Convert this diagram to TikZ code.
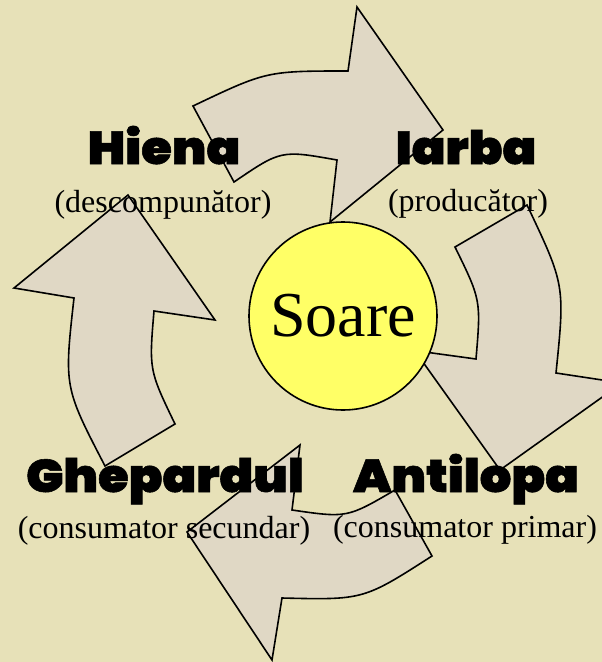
\documentclass[tikz,border=0pt]{standalone}
\usepackage{fontspec}
\setmainfont{Liberation Serif}
\newfontfamily\heavyfont{Poppins Black}[FakeStretch=1.08,FakeBold=1.2]
\definecolor{bg}{RGB}{231,225,184}
\definecolor{arrowfill}{RGB}{224,216,197}
\definecolor{sun}{RGB}{255,255,102}
\tikzset{
  cyclearrow/.style={fill=arrowfill, draw=black, line width=1.6pt, line join=miter},
  title/.style={font=\heavyfont\fontsize{46}{50}\selectfont, anchor=base, inner sep=0pt},
  role/.style={font=\fontsize{32}{36}\selectfont, anchor=base, inner sep=0pt},
}
\begin{document}
\begin{tikzpicture}[x=1pt,y=-1pt]
  \path[use as bounding box, fill=bg] (0,0) rectangle (602,662);
  \clip (0,0) rectangle (602,662);
  % top arrow
  \draw[cyclearrow] (193,106) .. controls (266.5,71) .. (348,71) -- (357,7) -- (443,130)
     -- (330,222) -- (337,160) .. controls (281,150) .. (234,182) -- cycle;
  % right arrow
  \draw[cyclearrow] (527,205) .. controls (565,285) .. (556,373) -- (622,383) -- (500,470)
     -- (414.7,350.6) -- (476,359) .. controls (481,300) .. (455,247) -- cycle;
  % bottom arrow
  \draw[cyclearrow] (432,556) .. controls (363.5,600) .. (282,598) -- (272,660) -- (187,532)
     -- (300,445) -- (292,510) .. controls (347,518) .. (395,490) -- cycle;
  % left arrow
  \draw[cyclearrow] (105,466) .. controls (64,387) .. (74,298) -- (14,288) -- (128,195)
     -- (215,320) -- (154,311) .. controls (149,370) .. (175,424) -- cycle;
  % sun
  \node[circle, draw=black, fill=sun, line width=1.6pt, minimum size=188pt, inner sep=0pt,
        font=\fontsize{64}{70}\selectfont] (soare) at (343,316) {Soare};
  % labels
  \node[title] (hiena) at (164,164) {Hiena};
  \node[role] (hienarole) at (163,212) {(descompunător)};
  \node[title] (iarba) at (466,164) {Iarba};
  \node[role] (iarbarole) at (468,211) {(producător)};
  \node[title] (ghepardul) at (165,492) {Ghepardul};
  \node[role] (ghepardulrole) at (164,538) {(consumator secundar)};
  \node[title] (antilopa) at (466,492) {Antilopa};
  \node[role] (antiloparole) at (465,537) {(consumator primar)};
\end{tikzpicture}
\end{document}
